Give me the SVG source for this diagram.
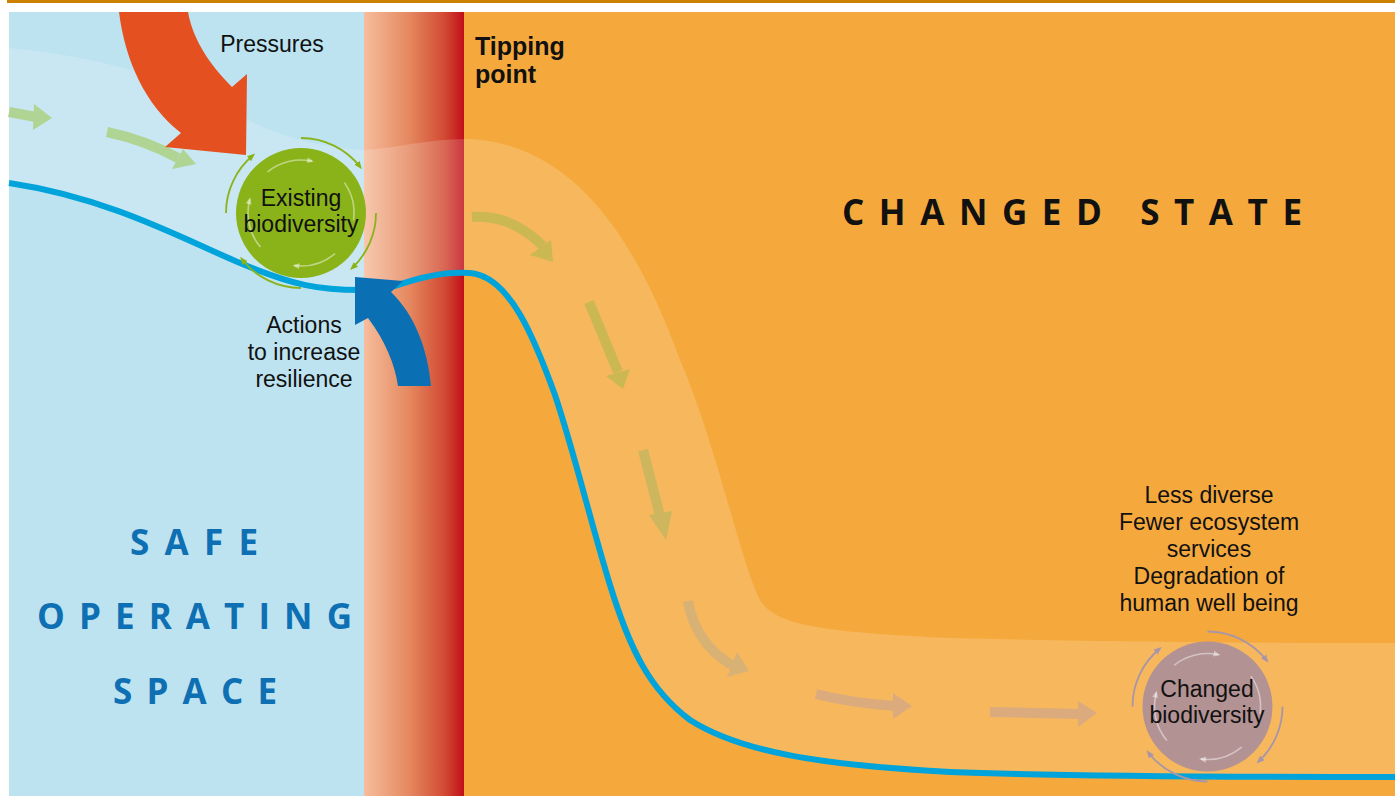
<svg xmlns="http://www.w3.org/2000/svg" width="1395" height="796" viewBox="0 0 1395 796">
<defs>
<linearGradient id="tip" x1="0" x2="1" y1="0" y2="0">
<stop offset="0" stop-color="#f6bd9d"/>
<stop offset="0.45" stop-color="#e5885f"/>
<stop offset="0.8" stop-color="#d24a33"/>
<stop offset="1" stop-color="#c10d19"/>
</linearGradient>
<marker id="mg" markerUnits="userSpaceOnUse" markerWidth="10" markerHeight="8" refX="5" refY="4" orient="auto"><path d="M0,0.8 L8,4 L0,7.2 z" fill="#8ab31a"/></marker>
<marker id="mw" markerUnits="userSpaceOnUse" markerWidth="10" markerHeight="8" refX="5" refY="4" orient="auto"><path d="M0,1 L7,4 L0,7 z" fill="#ffffff" fill-opacity="0.45"/></marker>
<marker id="mm" markerUnits="userSpaceOnUse" markerWidth="10" markerHeight="8" refX="5" refY="4" orient="auto"><path d="M0,0.8 L8,4 L0,7.2 z" fill="#a896a8"/></marker>
</defs>
<style>
.lbl{font-family:"Liberation Sans",Arial,sans-serif;font-size:23px;fill:#111;text-anchor:middle}
.tp{font-family:"Liberation Sans",Arial,sans-serif;font-size:25px;font-weight:bold;fill:#111}
.flow{fill:none;stroke-width:10}
.big{font-family:"Open Sans","Noto Sans","Liberation Sans",sans-serif;font-weight:bold;font-size:35px}
.outer{fill:none;stroke-width:1.8}
.inner{fill:none;stroke:#ffffff;stroke-opacity:0.45;stroke-width:1.6}
</style>
<g id="background">
<rect x="7" y="0" width="1388" height="3" fill="#cc8200"/>
<rect x="9" y="12" width="356" height="784" fill="#bde3f0"/>
<rect x="364" y="12" width="100.5" height="784" fill="url(#tip)"/>
<rect x="464" y="12" width="931" height="784" fill="#f5a93d"/>
<path d="M9,48 C80,55 150,70 210,100 C250,122 290,145 364,150 C400,148 430,138 470,139 C580,145 640,250 680,360 C715,440 740,560 760,600 C775,625 820,632 950,638 C1100,642 1250,643 1395,643 L1395,777 C1200,777 1050,776 950,772 C820,765 740,752 690,720 C650,690 630,650 610,585 C590,520 575,455 555,395 C535,340 510,276 470,273 C445,271 420,277 395,286 L360,290 C320,290 295,286 240,263 C185,240 110,198 9,183 Z" fill="#ffffff" fill-opacity="0.17"/>
</g>
<g id="labels">
<text class="big" x="130" y="555" fill="#0e6fb3" textLength="128" lengthAdjust="spacing">SAFE</text>
<text class="big" x="37" y="629" fill="#0e6fb3" textLength="315" lengthAdjust="spacing">OPERATING</text>
<text class="big" x="113" y="704" fill="#0e6fb3" textLength="164" lengthAdjust="spacing">SPACE</text>
<text class="big" x="842" y="225" fill="#111" font-size="36" textLength="460" lengthAdjust="spacing">CHANGED STATE</text>
<text class="lbl" x="272" y="52">Pressures</text>
<text class="tp" x="475" y="55">Tipping</text>
<text class="tp" x="475" y="83">point</text>
<text class="lbl" x="304" y="333">Actions</text>
<text class="lbl" x="304" y="360">to increase</text>
<text class="lbl" x="304" y="387">resilience</text>
<text class="lbl" x="1209" y="503">Less diverse</text>
<text class="lbl" x="1209" y="530">Fewer ecosystem</text>
<text class="lbl" x="1209" y="557">services</text>
<text class="lbl" x="1209" y="584">Degradation of</text>
<text class="lbl" x="1209" y="611">human well being</text>
</g>
<g id="connectors">
<path id="threshold-line" d="M9,183 C110,198 185,240 240,263 C295,286 320,290 360,290 L395,286 C420,277 445,271 470,273 C510,276 535,340 555,395 C575,455 590,520 610,585 C630,650 650,690 690,720 C740,752 820,765 950,772 C1050,776 1200,777 1395,777" fill="none" stroke="#00a3da" stroke-width="6"/>
<g stroke="#b0d494" fill="#b0d494">
<path class="flow" d="M9,112 L36,117"/><polygon points="34,104 52,118 33,130" stroke="none"/>
<path class="flow" d="M107,132 Q145,140 178,158"/><polygon points="183,149 196,164 172,169" stroke="none"/>
</g>
<g stroke="#cbb853" fill="#cbb853">
<path class="flow" d="M472,217 C498,215 522,225 543,246"/><polygon points="551,240 553,262 530,255" stroke="none"/>
<path class="flow" d="M589,302 L618,372"/><polygon points="630,369 623,389 606,376" stroke="none"/>
</g>
<g stroke="#cdb65e" fill="#cdb65e">
<path class="flow" d="M643,450 L660,516"/><polygon points="649,515 666,540 672,511" stroke="none"/>
</g>
<g stroke="#d8b275" fill="#d8b275">
<path class="flow" d="M688,601 C692,625 705,650 735,667"/><polygon points="737,652 749,671 727,677" stroke="none"/>
</g>
<g stroke="#dbab7e" fill="#dbab7e">
<path class="flow" d="M816,694 C840,700 865,704 895,706"/><polygon points="893,693 912,706 893,719" stroke="none"/>
<path class="flow" d="M990,712 L1080,714"/><polygon points="1078,701 1097,713 1078,727" stroke="none"/>
</g>
<path id="pressures-arrow" d="M119,12 C125,60 145,105 181,133 L165,147 L246,155 L247,74 L232,87 C210,65 193,40 188,12 Z" fill="#e55020"/>
<path id="actions-arrow" d="M398,386 C395,365 385,340 368,318 L355,325 L355,277 L403,281 L391,292 C415,315 428,350 431,386 Z" fill="#0b70b3"/>
</g>
<g id="existing-biodiversity">
<circle cx="301" cy="213" r="65" fill="#8ab31a"/>
<g transform="translate(301,213)">
<path class="outer" stroke="#8ab31a" marker-end="url(#mg)" d="M0,-75 A75,75 0 0 1 59.1,-46.2"/>
<path class="outer" stroke="#8ab31a" marker-end="url(#mg)" d="M75,0 A75,75 0 0 1 51.2,54.9"/>
<path class="outer" stroke="#8ab31a" marker-end="url(#mg)" d="M0,75 A75,75 0 0 1 -59.1,46.2"/>
<path class="outer" stroke="#8ab31a" marker-end="url(#mg)" d="M-75,0 A75,75 0 0 1 -48.2,-57.5"/>
<path class="inner" marker-end="url(#mw)" d="M-33.4,-41.2 A53,53 0 0 1 11,-51.8"/>
<path class="inner" d="M43.4,-30.4 A53,53 0 0 1 52.5,7.4"/>
<path class="inner" marker-end="url(#mw)" d="M34.1,40.6 A53,53 0 0 1 -6.5,52.6"/>
<path class="inner" marker-end="url(#mw)" d="M-40.6,34.1 A53,53 0 0 1 -51.2,-13.7"/>
</g>
<text class="lbl" x="301" y="206">Existing</text>
<text class="lbl" x="301" y="232">biodiversity</text>
</g>
<g id="changed-biodiversity">
<circle cx="1207.5" cy="706.5" r="65" fill="#b39293"/>
<g transform="translate(1207.5,706.5)">
<path class="outer" stroke="#a896a8" marker-end="url(#mm)" d="M0,-75 A75,75 0 0 1 59.1,-46.2"/>
<path class="outer" stroke="#a896a8" marker-end="url(#mm)" d="M75,0 A75,75 0 0 1 51.2,54.9"/>
<path class="outer" stroke="#a896a8" marker-end="url(#mm)" d="M0,75 A75,75 0 0 1 -59.1,46.2"/>
<path class="outer" stroke="#a896a8" marker-end="url(#mm)" d="M-75,0 A75,75 0 0 1 -48.2,-57.5"/>
<path class="inner" marker-end="url(#mw)" d="M-33.4,-41.2 A53,53 0 0 1 11,-51.8"/>
<path class="inner" d="M43.4,-30.4 A53,53 0 0 1 52.5,7.4"/>
<path class="inner" marker-end="url(#mw)" d="M34.1,40.6 A53,53 0 0 1 -6.5,52.6"/>
<path class="inner" marker-end="url(#mw)" d="M-40.6,34.1 A53,53 0 0 1 -51.2,-13.7"/>
</g>
<text class="lbl" x="1207" y="697">Changed</text>
<text class="lbl" x="1207" y="723">biodiversity</text>
</g>
</svg>
